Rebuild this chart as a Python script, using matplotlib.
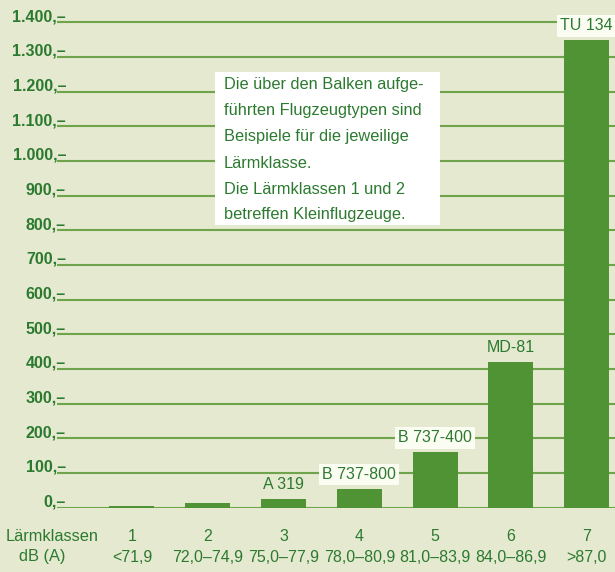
import matplotlib.pyplot as plt
from matplotlib.patches import Rectangle
from matplotlib.transforms import blended_transform_factory, offset_copy

# Lärmklassen data
klassen = ['1', '2', '3', '4', '5', '6', '7']
db_ranges = ['<71,9', '72,0–74,9', '75,0–77,9', '78,0–80,9', '81,0–83,9', '84,0–86,9', '>87,0']
werte = [4, 12, 25, 53, 159, 420, 1348]
flugzeuge = ['', '', 'A 319', 'B 737-800', 'B 737-400', 'MD-81', 'TU 134']
mit_box = [False, False, False, True, True, False, True]
y_ticks = [0, 100, 200, 300, 400, 500, 600, 700, 800, 900, 1000, 1100, 1200, 1300, 1400]
hinweis = ['Die über den Balken aufge-',
           'führten Flugzeugtypen sind',
           'Beispiele für die jeweilige',
           'Lärmklasse.',
           'Die Lärmklassen 1 und 2',
           'betreffen Kleinflugzeuge.']

bg = '#e4e9cf'
bar_col = '#4f9334'
txt_col = '#2c7a30'
grid_col = '#6fa34c'

plt.rcParams['font.family'] = ['Liberation Sans', 'DejaVu Sans']

W, H = 615, 572
fig = plt.figure(figsize=(W / 100, H / 100), dpi=100, facecolor=bg)
ax = fig.add_axes([57 / W, (H - 507.5) / H, (W - 57) / W, 502.6 / H])
ax.set_facecolor(bg)
for s in ax.spines.values():
    s.set_visible(False)

x = list(range(len(klassen)))
ax.set_xlim(-0.99, 6.376)
ax.set_ylim(0, 1450)

for v in y_ticks:
    ax.axhline(v, color=grid_col, lw=1.5, zorder=1)

ax.bar(x, werte, width=0.594, color=bar_col, zorder=2)

for xi, v, lab, box in zip(x, werte, flugzeuge, mit_box):
    if not lab:
        continue
    kw = {}
    if box:
        kw['bbox'] = dict(boxstyle='square,pad=0.2', fc='#fbfcf2', ec='none')
    ax.annotate(lab, (xi, v), xytext=(0, 5), textcoords='offset points',
                ha='center', va='bottom', fontsize=11.5, color=txt_col, zorder=4, **kw)

ax.set_xticks([])
ax.set_yticks([])

# y tick labels "1.400,–" sitting on the gridline
trans = blended_transform_factory(fig.transFigure, ax.transData)
trans_up = offset_copy(trans, fig=fig, y=1.0, units='dots')
for v in y_ticks:
    lab = f'{v:,}'.replace(',', '.') + ',–'
    ax.text(66 / W, v, lab, transform=trans_up, ha='right', va='baseline',
            fontsize=11.5, fontweight='bold', color=txt_col, clip_on=False, zorder=3)

# x labels
trans_x = blended_transform_factory(ax.transData, fig.transFigure)
for xi, k, r in zip(x, klassen, db_ranges):
    ax.text(xi, 1 - 536.5 / H, k, transform=trans_x, ha='center', va='center',
            fontsize=11.5, color=txt_col, clip_on=False)
    ax.text(xi, 1 - 557 / H, r, transform=trans_x, ha='center', va='center',
            fontsize=11.5, color=txt_col, clip_on=False)
fig.text(6 / W, 1 - 536.5 / H, 'Lärmklassen', ha='left', va='center',
         fontsize=11.8, color=txt_col)
fig.text(19 / W, 1 - 557 / H, 'dB (A)', ha='left', va='center',
         fontsize=11.8, color=txt_col)

# hint box
fig.patches.append(Rectangle((215 / W, 1 - 225 / H), 225 / W, 153 / H,
                             transform=fig.transFigure, fc='white', ec='none', zorder=3))
for i, line in enumerate(hinweis):
    fig.text(224 / W, 1 - (85 + i * 26) / H, line, ha='left', va='center',
             fontsize=11.8, color=txt_col, zorder=4)

fig.savefig('out.png', dpi=100, facecolor=bg)
